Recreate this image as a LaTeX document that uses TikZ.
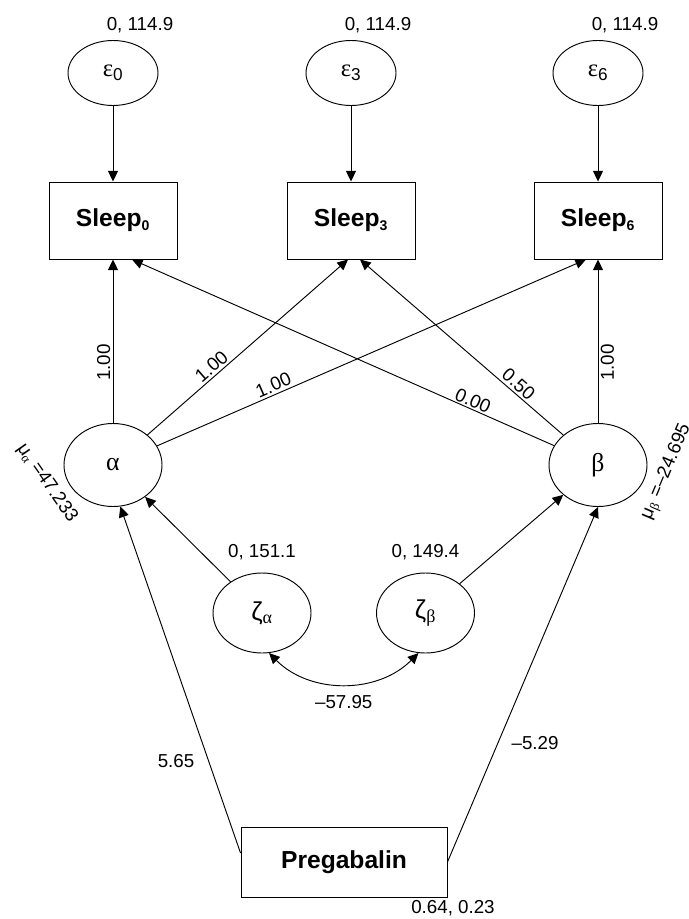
\documentclass[tikz,border=0pt]{standalone}
\usepackage{fontspec}
\setmainfont{Liberation Sans}
\newfontfamily\grk{Liberation Serif}
\usetikzlibrary{shapes.geometric,arrows.meta,calc}

\begin{document}
\begin{tikzpicture}[x=0.03cm, y=-0.03cm, line width=0.8pt,
    font=\fontsize{16}{19}\selectfont,
    arr/.style={-{Triangle[length=0.32cm,width=0.3cm]}},
    twoarr/.style={{Triangle[length=0.32cm,width=0.3cm]}-{Triangle[length=0.32cm,width=0.3cm]}},
    errvar/.style={draw, ellipse, inner sep=0pt, minimum width=2.7cm, minimum height=1.95cm, font=\fontsize{21}{24}\selectfont},
    latent/.style={draw, ellipse, inner sep=0pt, minimum width=2.94cm, minimum height=2.49cm, font=\fontsize{22}{25}\selectfont},
    obsbox/.style={draw, rectangle, inner sep=0pt, minimum width=3.84cm, minimum height=2.31cm, font=\bfseries\fontsize{21}{24}\selectfont},
    coef/.style={inner sep=2pt}]

    % Page frame
    \useasboundingbox (0,0) rectangle (688,919);

    % Error terms and observed sleep scores
    \foreach \i/\x in {0/113, 3/351, 6/598} {
        \node[errvar] (Eps\i) at (\x, 73) {{\grk ε}\textsubscript{\i}};
        \node (VarEps\i) at (\x+27, 25) {0, 114.9};
        \node[obsbox] (Sleep\i) at (\x, 220.5) {Sleep\textsubscript{\fontsize{12}{14}\selectfont\i}};
        \draw[arr] (Eps\i) -- (Sleep\i);
    }

    % Growth factors
    \node[latent] (Alpha) at (113, 465) {\grk α};
    \node[latent] (Beta) at (598, 465) {\grk β};
    \node[rotate=-55] (MuAlpha) at (47, 483) {μ\textsubscript{\grk α} =47.233};
    \node[rotate=67] (MuBeta) at (667, 472) {μ\textsubscript{\grk β} =–24.695};

    % Loadings
    \draw[arr] (Alpha) -- (Sleep0) node[coef, pos=.37, sloped, above] {1.00};
    \draw[arr] (Alpha) -- ($(Sleep3.south)+(-3,0)$) node[coef, pos=.35, sloped, above] {1.00};
    \draw[arr] (Alpha) -- ($(Sleep6.south)+(-12,0)$) node[coef, pos=.28, sloped, above] {1.00};
    \draw[arr] (Beta) -- ($(Sleep0.south)+(19,0)$) node[coef, pos=.2, sloped, above=-1pt] {0.00};
    \draw[arr] (Beta) -- ($(Sleep3.south)+(9,0)$) node[coef, pos=.25, sloped, above] {0.50};
    \draw[arr] (Beta) -- (Sleep6) node[coef, pos=.37, sloped, below] {1.00};

    % Residuals of the growth factors
    \node[latent, minimum height=2.4cm] (ZetaA) at (262, 613) {ζ\textsubscript{\grk α}};
    \node[latent, minimum height=2.4cm] (ZetaB) at (425.5, 613) {ζ\textsubscript{\grk β}};
    \node (VarZetaA) at (262, 552) {0, 151.1};
    \node (VarZetaB) at (425.5, 552) {0, 149.4};
    \draw[arr] (ZetaA) -- (Alpha);
    \draw[arr] (ZetaB) -- (Beta);
    \draw[twoarr] (ZetaA.-80) to[bend right=45] node[below=0.22cm] {–57.95} (ZetaB.-100);

    % Covariate
    \node[obsbox, minimum width=6.18cm, minimum height=2.1cm] (Pregabalin) at (344, 862) {Pregabalin};
    \node (VarPreg) at (453, 908) {0.64, 0.23};
    \draw[arr] ($(Pregabalin.west)+(0,-9)$) -- (Alpha.-80) node[pos=.265, left=0.3cm] {5.65};
    \draw[arr] (Pregabalin.east) -- (Beta.south) node[pos=.335, right=0.28cm] {–5.29};

\end{tikzpicture}
\end{document}
